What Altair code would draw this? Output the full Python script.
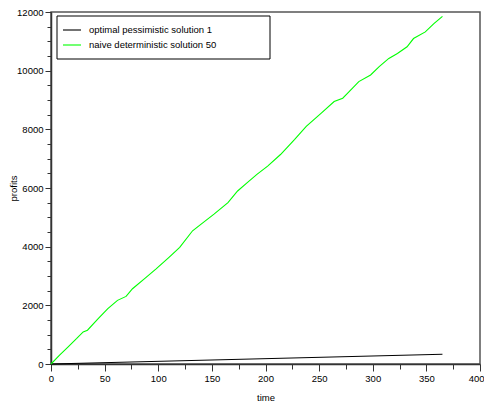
import altair as alt
import pandas as pd

# green series: naive deterministic solution 50
green_t = [0, 8, 16, 24, 30, 34, 44, 53, 62, 70, 76, 87, 98, 110, 120, 132, 140,
           152, 165, 174, 183, 192, 202, 214, 227, 238, 252, 264, 272, 278, 287,
           298, 306, 315, 323, 332, 338, 349, 357, 365]
green_v = [0, 300, 586, 870, 1095, 1152, 1548, 1887, 2169, 2305, 2565, 2904, 3243,
           3638, 3977, 4542, 4768, 5108, 5503, 5898, 6181, 6463, 6746, 7141, 7650,
           8102, 8553, 8949, 9061, 9288, 9627, 9853, 10136, 10418, 10587, 10814,
           11095, 11322, 11604, 11853]
# black series: optimal pessimistic solution 1
black_t = [0, 365]
black_v = [0, 330]

series_names = ["optimal pessimistic solution 1", "naive deterministic solution 50"]
series_colors = ["#000000", "#00ff00"]

x_ticks = list(range(0, 401, 25))
y_ticks = list(range(0, 12001, 500))

df = pd.concat([
    pd.DataFrame({"time": black_t, "profits": black_v, "series": series_names[0], "o": range(len(black_t))}),
    pd.DataFrame({"time": green_t, "profits": green_v, "series": series_names[1], "o": range(len(green_t))}),
])

FONT = "Liberation Sans"
FS = 9.5

x_axis = alt.Axis(
    values=x_ticks,
    labelExpr="datum.value % 50 === 0 ? datum.label : ''",
    tickSize={"condition": {"test": "datum.value % 50 === 0", "value": 7}, "value": 5},
    labelAlign={"condition": {"test": "datum.value === 400", "value": "right"}, "value": "center"},
    labelOffset={"condition": {"test": "datum.value === 400", "value": 4}, "value": 0},
    labelPadding=2, labelFlush=False, labelOverlap=False, grid=False,
    title="time", titleY=36, titleBaseline="alphabetic", titleFontWeight="normal",
)
y_axis = alt.Axis(
    values=y_ticks,
    labelExpr="datum.value % 2000 === 0 ? datum.label : ''",
    format="d",
    tickSize={"condition": {"test": "datum.value % 2000 === 0", "value": 6}, "value": 4},
    labelPadding=2, labelOverlap=False, grid=False,
    title="profits", titleX=-35, titleY=176, titleAngle=-90,
    titleBaseline="alphabetic", titleFontWeight="normal",
)

box = alt.Chart(pd.DataFrame({"a": [0]})).mark_rect(
    fill="white", stroke="black", strokeWidth=1
).encode(
    x=alt.value(6), x2=alt.value(219), y=alt.value(4), y2=alt.value(47)
)

lines = alt.Chart(df).mark_line(strokeWidth=1.1).encode(
    x=alt.X("time:Q", scale=alt.Scale(domain=[0, 400], nice=False), axis=x_axis),
    y=alt.Y("profits:Q", scale=alt.Scale(domain=[0, 12000], nice=False), axis=y_axis),
    color=alt.Color(
        "series:N",
        scale=alt.Scale(domain=series_names, range=series_colors),
        legend=alt.Legend(
            title=None, orient="none", legendX=11, legendY=8,
            symbolType="stroke", symbolSize=324, symbolStrokeWidth=1.1,
            labelFontSize=FS, labelFont=FONT, labelOffset=7, rowPadding=0,
            padding=0, labelColor="black",
        ),
    ),
    order="o:Q",
)

chart = alt.layer(box, lines).properties(
    width=429, height=352,
    autosize=alt.AutoSizeParams(type="none"),
    padding={"left": 43, "top": 4, "right": 4, "bottom": 39},
).configure_view(
    stroke="#555555", strokeWidth=1.5
).configure_axis(
    domainColor="#333333", domainWidth=1.5, tickColor="#333333", tickWidth=1,
    labelFont=FONT, labelFontSize=FS, labelColor="black",
    titleFont=FONT, titleFontSize=FS, titleColor="black",
)

chart.save("out.html", embed_options={"renderer": "svg", "actions": False})
